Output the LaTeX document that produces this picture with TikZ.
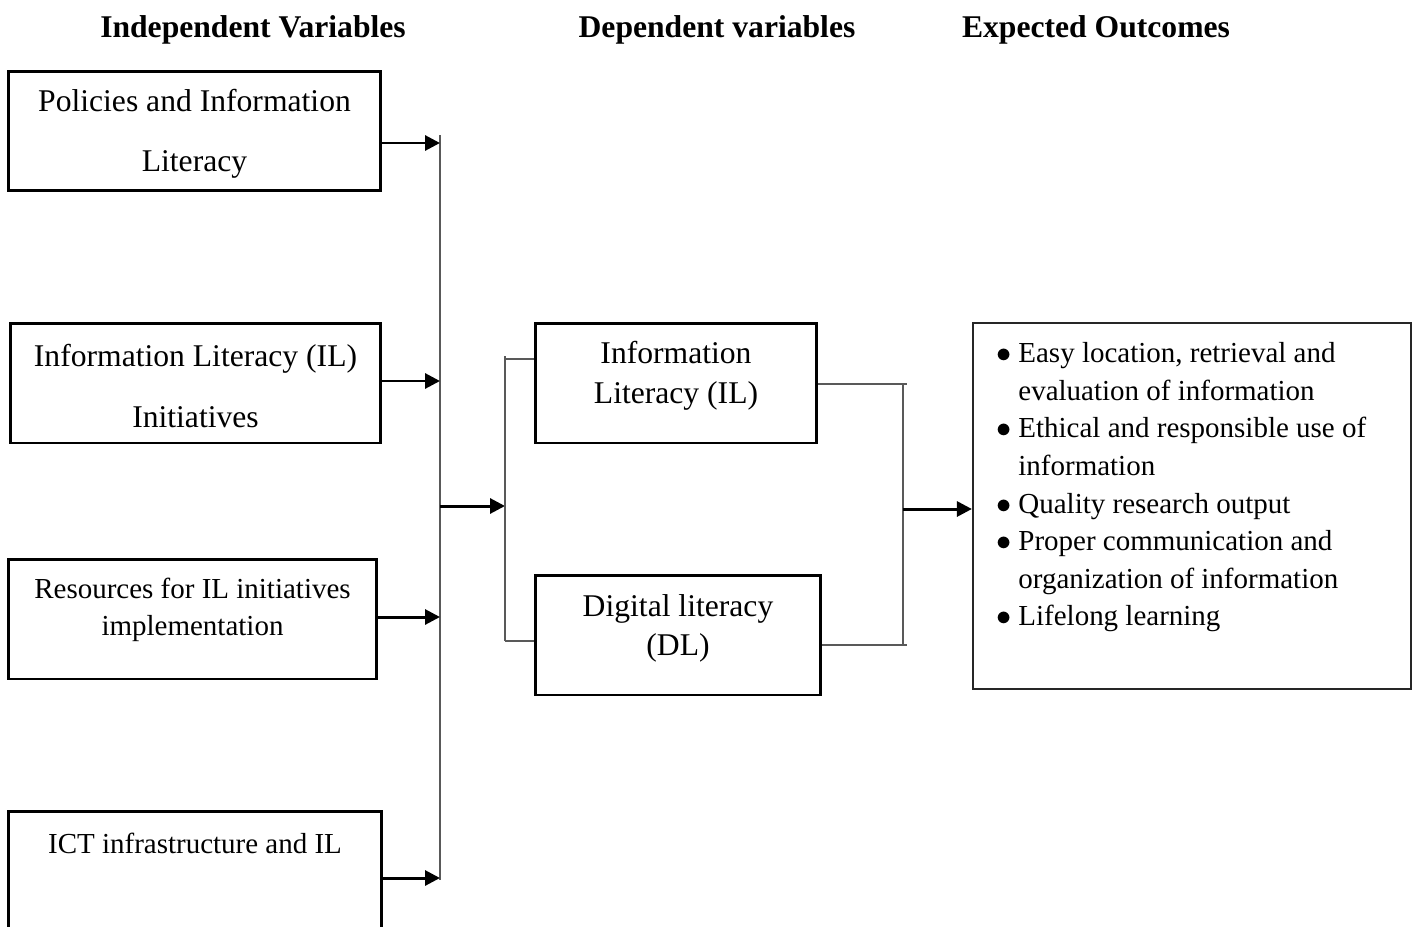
\documentclass[tikz,border=0pt]{standalone}
\usepackage{fontspec}
\setmainfont{Liberation Serif}
\usetikzlibrary{positioning,arrows.meta}

\begin{document}
\begin{tikzpicture}[x=0.02cm, y=-0.02cm,
  box/.style={draw, line width=1.7pt, minimum height=2.4cm, inner sep=0pt},
  txt/.style={inner sep=0pt, align=center},
  head/.style={inner sep=0pt, font=\fontsize{18}{22}\selectfont\bfseries},
  arr/.style={line width=1.7pt, -{Triangle[length=8.5pt,width=8.5pt]}},
  bus/.style={line width=1.1pt, black!65},
  tick/.style={line width=0.6pt, black!65}]

\useasboundingbox (0,0) rectangle (1415,926);

% headings
\node[head] (h1) at (253,30) {Independent Variables};
\node[head] (h2) at (717,30) {Dependent variables};
\node[head] (h3) at (1096,30) {Expected Outcomes};

% independent variables
\node[box, minimum width=7.46cm] (pol) at (194.5,131) {};
\node[txt, font=\fontsize{18}{34}\selectfont] (polt) at (194.5,134) {Policies and Information\\Literacy};
\node[box, minimum width=7.42cm] (init) at (195.5,383) {};
\node[txt, font=\fontsize{18}{34.5}\selectfont] (initt) at (195.5,386) {Information Literacy (IL)\\Initiatives};
\node[box, minimum width=7.38cm] (res) at (192.5,619) {};
\node[txt, font=\fontsize{16.5}{21}\selectfont] (rest) at (192.5,609.5) {Resources for IL initiatives\\implementation};
\node[box, minimum width=7.48cm] (ict) at (195,871) {};
\node[txt, font=\fontsize{16.5}{21}\selectfont] (ictt) at (195,843) {ICT infrastructure and IL};

% dependent variables
\node[box, minimum width=5.64cm] (il) at (676,383) {};
\node[txt, font=\fontsize{18}{22.7}\selectfont] (ilt) at (676,376) {Information\\Literacy (IL)};
\node[box, minimum width=5.72cm] (dl) at (678,635) {};
\node[txt, font=\fontsize{18}{22.1}\selectfont] (dlt) at (678,628.5) {Digital literacy\\(DL)};

% expected outcomes
\node[draw, line width=1.3pt, black!85, minimum width=8.76cm, minimum height=7.32cm] (out) at (1192,506) {};
\node[inner sep=0pt, anchor=north west, font=\fontsize{16.5}{21.4}\selectfont] (outt) at (996,336) {%
  \begin{tabular}{@{}c@{\hspace{3.9pt}}l@{}}
  $\bullet$ & Easy location, retrieval and\\
            & evaluation of information\\
  $\bullet$ & Ethical and responsible use of\\
            & information\\
  $\bullet$ & Quality research output\\
  $\bullet$ & Proper communication and\\
            & organization of information\\
  $\bullet$ & Lifelong learning
  \end{tabular}};

% left bus
\coordinate (bt) at (440,135);
\coordinate (bb) at (440,880);
\coordinate (b1) at (440,143);
\coordinate (b2) at (440,381);
\coordinate (b3) at (440,617);
\coordinate (b4) at (440,878);
\coordinate (bm) at (440,506);
\draw[bus] (bt) -- (bb);
\draw[arr] (pol.east |- b1) -- (b1);
\draw[arr] (init.east |- b2) -- (b2);
\draw[arr] (res.east |- b3) -- (b3);
\draw[arr] (ict.east |- b4) -- (b4);

% bracket to the dependent variables
\coordinate (kt) at (505,356);
\coordinate (kb) at (505,641);
\coordinate (km) at (505,506);
\draw[arr] (bm) -- (km);
\draw[bus] (kt) -- (kb);
\draw[tick] (505,359) -- (il.west |- 505,359);
\draw[tick] (kb) -- (dl.west |- kb);

% right bus
\coordinate (rt) at (903,384);
\coordinate (rb) at (903,645);
\coordinate (rm) at (903,509);
\draw[bus] (rt) -- (rb);
\draw[tick] (il.east |- rt) -- ([xshift=2]rt);
\draw[tick] (dl.east |- rb) -- ([xshift=2]rb);
\draw[arr] (rm) -- (out.west |- rm);

\end{tikzpicture}
\end{document}
